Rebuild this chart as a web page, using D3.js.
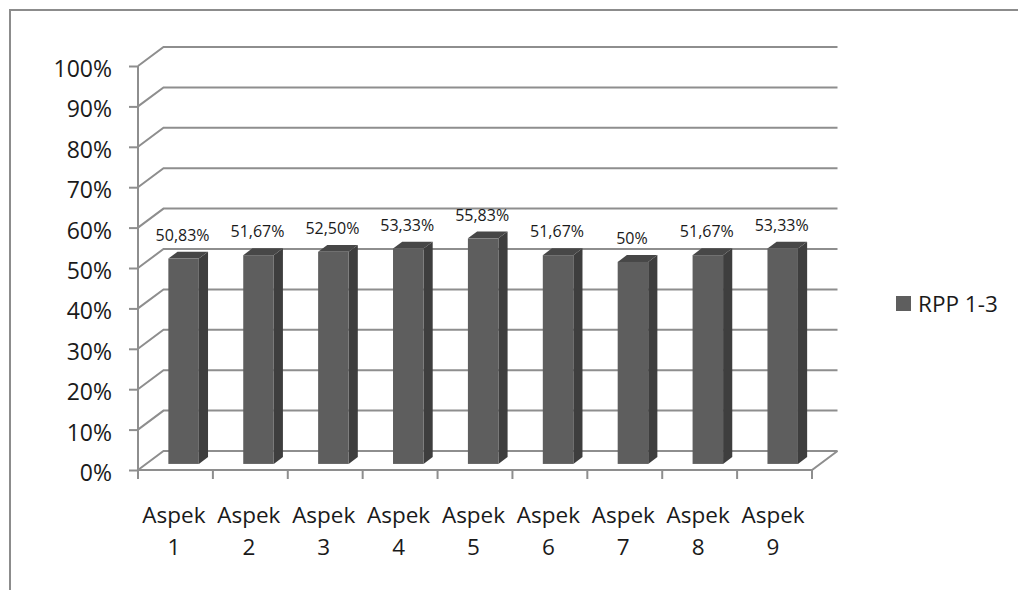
<!DOCTYPE html>
<html>
<head>
<meta charset="utf-8">
<script src="https://cdn.jsdelivr.net/npm/d3@7/dist/d3.min.js"></script>
<style>
  html, body { margin: 0; padding: 0; background: #fff; }
  svg { display: block; }
  text { font-family: "Open Sans", "DejaVu Sans", sans-serif; fill: #1a1a1a; }
</style>
</head>
<body>
<svg id="chart" width="1018" height="590"></svg>
<script>
// Category names (two-line labels) and the single series values
const categories = ["Aspek 1", "Aspek 2", "Aspek 3", "Aspek 4", "Aspek 5", "Aspek 6", "Aspek 7", "Aspek 8", "Aspek 9"];
const values = [0.5083, 0.5167, 0.5250, 0.5333, 0.5583, 0.5167, 0.50, 0.5167, 0.5333];
const valueLabels = ["50,83%", "51,67%", "52,50%", "53,33%", "55,83%", "51,67%", "50%", "51,67%", "53,33%"];
const yTicks = [0, 0.1, 0.2, 0.3, 0.4, 0.5, 0.6, 0.7, 0.8, 0.9, 1.0];
const yTickLabels = ["0%", "10%", "20%", "30%", "40%", "50%", "60%", "70%", "80%", "90%", "100%"];
const seriesName = "RPP 1-3";

const svg = d3.select("#chart");

// Chart frame
svg.append("rect")
  .attr("x", 10).attr("y", 10).attr("width", 1030).attr("height", 610)
  .attr("fill", "none").attr("stroke", "#8c8c8c").attr("stroke-width", 2);

// Front plane of the 3D plot area
const plot = { left: 138, right: 812, top: 66, bottom: 470 };
// Depth vector (front -> back of the floor)
const DX = 25.5, DY = -19;

const x = d3.scaleBand().domain(categories).range([plot.left, plot.right]).padding(0);
const y = d3.scaleLinear().domain([0, 1]).range([plot.bottom, plot.top]);

const gridColor = "#8e8e8e";
const grid = svg.append("g").attr("fill", "none").attr("stroke", gridColor).attr("stroke-width", 2);

// Wall gridlines: diagonal on the side wall, then across the back wall
yTicks.forEach(t => {
  const yy = y(t);
  grid.append("path")
    .attr("d", d3.line()([[plot.left, yy], [plot.left + DX, yy + DY], [plot.right + DX, yy + DY]]));
});

// Floor front edge and right edge
grid.append("path").attr("d", d3.line()([[plot.left, plot.bottom], [plot.right, plot.bottom], [plot.right + DX, plot.bottom + DY]]));

// Value axis line with tick marks
const yAxis = svg.append("g").attr("transform", `translate(${plot.left},0)`)
  .call(d3.axisLeft(y).tickValues(yTicks).tickSize(9).tickFormat((d, i) => yTickLabels[i]));
yAxis.select(".domain").attr("stroke", gridColor).attr("stroke-width", 2).attr("d", `M0,${plot.top}V${plot.bottom}`);
yAxis.selectAll(".tick line").attr("stroke", gridColor).attr("stroke-width", 2);
yAxis.selectAll(".tick text")
  .attr("x", -26).attr("dy", "0.46em")
  .style("font-family", "'Open Sans', sans-serif").style("font-size", "23px").attr("fill", "#1a1a1a");

// Category axis ticks below the floor front edge
const catTicks = d3.range(categories.length + 1).map(i => plot.left + i * x.step());
svg.append("g").selectAll("line").data(catTicks).join("line")
  .attr("x1", d => d).attr("x2", d => d)
  .attr("y1", plot.bottom).attr("y2", plot.bottom + 9)
  .attr("stroke", gridColor).attr("stroke-width", 2);

// Category labels on two lines
const catLabels = svg.append("g").selectAll("text").data(categories).join("text")
  .attr("text-anchor", "middle")
  .style("font-size", "22.5px");
catLabels.each(function (d) {
  const parts = d.split(" ");
  const cx = x(d) + x.bandwidth() / 2 - 1.5;
  const t = d3.select(this);
  t.append("tspan").attr("x", cx).attr("y", 523).text(parts[0]);
  t.append("tspan").attr("x", cx).attr("y", 555).text(parts[1]);
});

// 3D columns: occupy the middle third of the floor depth
const barW = 30.5;
const d0 = 0.32, d1 = 0.68;
const bars = svg.append("g");
categories.forEach((c, i) => {
  const v = values[i];
  const x0 = x(c) + (x.bandwidth() - barW) / 2 + DX * d0;
  const x1 = x0 + barW;
  const yb = y(0) + DY * d0;
  const yt = y(v) + DY * d0;
  const ddx = DX * (d1 - d0), ddy = DY * (d1 - d0);
  const g = bars.append("g");
  // side face
  g.append("path").attr("fill", "#3e3e3e")
    .attr("d", d3.line()([[x1, yb], [x1 + ddx, yb + ddy], [x1 + ddx, yt + ddy], [x1, yt]]) + "Z");
  // top face
  g.append("path").attr("fill", "#474747")
    .attr("d", d3.line()([[x0, yt], [x0 + ddx, yt + ddy], [x1 + ddx, yt + ddy], [x1, yt]]) + "Z");
  // front face
  g.append("rect").attr("x", x0).attr("y", yt).attr("width", barW).attr("height", yb - yt).attr("fill", "#5e5e5e");
  // value label
  svg.append("text")
    .attr("x", x0 + barW / 2 - 1)
    .attr("y", yt + ddy - 11)
    .attr("text-anchor", "middle")
    .style("font-size", "16px")
    .text(valueLabels[i]);
});

// Legend
const legend = svg.append("g").attr("transform", "translate(896,296)");
legend.append("rect").attr("width", 15).attr("height", 15).attr("fill", "#5e5e5e");
legend.append("text").attr("x", 22).attr("y", 15.5).style("font-size", "22.5px").text(seriesName);
</script>
</body>
</html>
